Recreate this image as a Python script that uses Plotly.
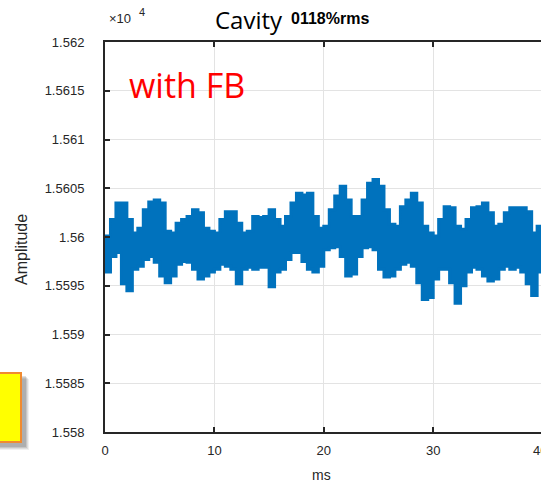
import plotly.graph_objects as go

# ---------------- data ----------------
t_ms = [0.0, 0.5, 1.0, 1.5, 2.0, 2.5, 3.0, 3.5, 4.0, 4.5, 5.0, 5.5, 6.0, 6.5, 7.0, 7.5,
        8.0, 8.5, 9.0, 9.5, 10.0, 10.5, 11.0, 11.5, 12.0, 12.5, 13.0, 13.5, 14.0, 14.5,
        15.0, 15.5, 16.0, 16.5, 17.0, 17.5, 18.0, 18.5, 19.0, 19.5, 20.0, 20.5, 21.0,
        21.5, 22.0, 22.5, 23.0, 23.5, 24.0, 24.5, 25.0, 25.5, 26.0, 26.5, 27.0, 27.5,
        28.0, 28.5, 29.0, 29.5, 30.0, 30.5, 31.0, 31.5, 32.0, 32.5, 33.0, 33.5, 34.0,
        34.5, 35.0, 35.5, 36.0, 36.5, 37.0, 37.5, 38.0, 38.5, 39.0, 39.5, 40.0]

base_amplitude = 15600.0

# upper envelope of the noisy trace (deviation from base)
upper_dev = [0.1, 1.8, 3.5, 3.5, 1.8, 0.4, 0.9, 2.8, 3.6, 3.8, 3.5, 0.6, 0.4, 1.4, 1.8, 2.1,
             2.8, 2.5, 0.9, 0.6, 0.4, 1.8, 2.6, 2.6, 1.4, 0.4, 0.6, 2.1, 2.0, 2.1, 2.8, 1.8,
             1.1, 2.1, 3.5, 4.5, 4.3, 4.5, 2.1, 0.9, 1.1, 2.8, 4.2, 5.2, 3.8, 2.1, 2.1, 3.8,
             5.5, 5.9, 5.2, 2.8, 1.3, 1.1, 3.1, 3.8, 4.5, 3.5, 1.1, 0.4, 0.1, 1.8, 3.1, 3.0,
             1.1, 0.8, 1.8, 3.0, 3.1, 3.5, 2.5, 1.1, 1.3, 2.5, 3.0, 3.0, 3.0, 2.6, 0.4, 1.1,
             1.4]

# lower envelope of the noisy trace (deviation from base)
lower_dev = [-3.3, -3.6, -2.0, -1.6, -4.8, -5.5, -3.3, -3.0, -2.3, -2.0, -2.6, -4.0, -4.7,
             -4.0, -2.8, -2.5, -2.6, -3.3, -4.3, -4.0, -3.6, -3.3, -2.8, -3.0, -3.3, -4.8,
             -3.3, -3.1, -3.3, -3.1, -3.1, -5.1, -3.6, -3.3, -2.3, -1.6, -1.6, -2.5, -3.3,
             -3.6, -3.0, -1.3, -1.1, -1.0, -2.0, -4.0, -3.8, -2.0, -1.1, -1.0, -1.3, -3.3,
             -4.1, -4.0, -3.3, -2.8, -2.6, -3.0, -4.7, -6.4, -6.2, -4.3, -3.3, -3.3, -4.7,
             -6.8, -5.0, -3.6, -3.1, -3.3, -4.0, -4.5, -4.3, -3.3, -3.0, -3.3, -3.1, -3.6,
             -4.8, -6.0, -3.6]

x_ticks = [0, 10, 20, 30]
x_tick_labels = ["0", "10", "20", "30"]
y_ticks = [1.558, 1.5585, 1.559, 1.5595, 1.56, 1.5605, 1.561, 1.5615, 1.562]
y_tick_labels = ["1.558", "1.5585", "1.559", "1.5595", "1.56", "1.5605", "1.561", "1.5615", "1.562"]
scale = 1e4

# ---------------- figure ----------------
W, H = 541, 483
L, R, T, B = 105, 0, 42, 51
pw, ph = W - L - R, H - T - B


def px(xp):
    return (xp - L) / pw


def py(yp):
    return (H - B - yp) / ph


up = [(base_amplitude + d) / scale for d in upper_dev]
lo = [(base_amplitude + d) / scale for d in lower_dev]

blue = "#0072BD"
fig = go.Figure()
fig.add_trace(go.Scatter(
    x=t_ms + t_ms[::-1],
    y=up + lo[::-1],
    mode="lines",
    fill="toself",
    fillcolor=blue,
    line=dict(color=blue, width=3, shape="hv"),
    hoverinfo="skip",
    showlegend=False,
))

axis_col = "#262626"
tick_font = dict(family="Liberation Sans, Arial, sans-serif", size=13, color=axis_col)

fig.update_layout(
    width=W, height=H,
    margin=dict(l=L, r=R, t=T, b=B, pad=0),
    paper_bgcolor="white",
    plot_bgcolor="white",
    showlegend=False,
    xaxis=dict(
        range=[0, pw / 10.94],
        tickvals=x_ticks, ticktext=x_tick_labels,
        ticks="inside", ticklen=5, tickwidth=1.5, tickcolor=axis_col,
        showline=True, linecolor=axis_col, linewidth=2, mirror="ticks",
        showgrid=True, gridcolor="#E3E3E3", gridwidth=1,
        zeroline=False, tickfont=tick_font, ticklabelstandoff=5,
    ),
    yaxis=dict(
        range=[1.558, 1.562],
        tickvals=y_ticks, ticktext=y_tick_labels,
        ticks="inside", ticklen=5, tickwidth=1.5, tickcolor=axis_col,
        showline=True, linecolor=axis_col, linewidth=2, mirror=False,
        showgrid=True, gridcolor="#E3E3E3", gridwidth=1,
        zeroline=False, tickfont=tick_font, ticklabelstandoff=16,
    ),
)

ann = []
ann.append(dict(text="Cavity", x=px(213), y=py(20), xanchor="left", yanchor="middle",
                font=dict(family="Open Sans, sans-serif", size=24, color="black")))
ann.append(dict(text="<b>0118%rms</b>", x=px(289), y=py(19), xanchor="left", yanchor="middle",
                font=dict(family="Liberation Sans, Arial, sans-serif", size=16, color="black")))
ann.append(dict(text="×10", x=px(107), y=py(18), xanchor="left", yanchor="middle",
                font=dict(family="Liberation Sans, Arial, sans-serif", size=13, color=axis_col)))
ann.append(dict(text="4", x=px(137), y=py(12), xanchor="left", yanchor="middle",
                font=dict(family="Liberation Sans, Arial, sans-serif", size=11, color=axis_col)))
ann.append(dict(text="with FB", x=px(127), y=py(85), xanchor="left", yanchor="middle",
                font=dict(family="Open Sans, sans-serif", size=34, color="#FF0000")))
ann.append(dict(text="Amplitude", x=px(21), y=py(250), xanchor="center", yanchor="middle",
                textangle=-90,
                font=dict(family="Liberation Sans, Arial, sans-serif", size=16, color=axis_col)))
ann.append(dict(text="ms", x=px(321), y=py(475), xanchor="center", yanchor="middle",
                font=dict(family="Liberation Sans, Arial, sans-serif", size=14, color=axis_col)))
ann.append(dict(text="40", x=px(540), y=py(450), xanchor="center", yanchor="middle",
                font=tick_font))
for a in ann:
    a.update(xref="paper", yref="paper", showarrow=False)
fig.update_layout(annotations=ann)

# yellow call-out box (partially outside the picture) with soft shadow
shapes = []
for off, op in [(7, 0.06), (6, 0.08), (5, 0.10), (4, 0.12)]:
    shapes.append(dict(type="rect", xref="paper", yref="paper",
                       x0=px(-10 + off), x1=px(22 + off), y0=py(443 + off), y1=py(372 + off),
                       fillcolor="rgba(0,0,0,%s)" % op, line=dict(width=0), layer="above"))
shapes.append(dict(type="rect", xref="paper", yref="paper",
                   x0=px(-10), x1=px(21), y0=py(442), y1=py(373),
                   fillcolor="#FFFF00", line=dict(color="#F08A30", width=2), layer="above"))
fig.update_layout(shapes=shapes)

fig.write_html("out.html")
